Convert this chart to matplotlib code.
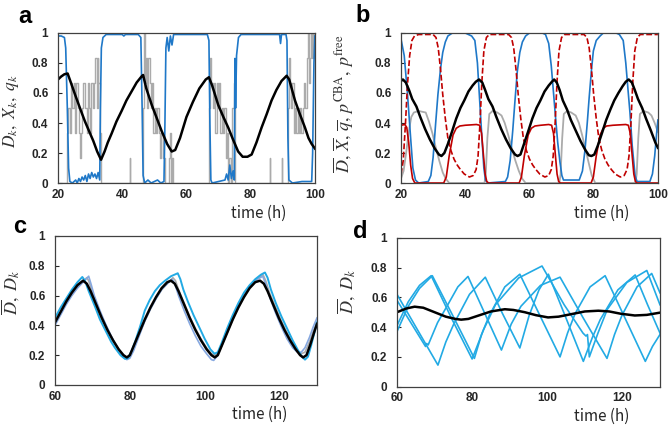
import matplotlib
matplotlib.use("Agg")
from matplotlib import pyplot as plt
from matplotlib.ticker import FuncFormatter

plt.rcParams['font.family'] = ['Liberation Sans', 'DejaVu Sans']
plt.rcParams['mathtext.fontset'] = 'stix'

# ---------- panel a ----------
a_D_t = [20, 21, 22, 23, 24, 25.3, 27, 28.4, 30, 31, 32.2, 33.4, 34.5, 35.5, 36.7, 38.2, 39.8, 41.3, 42.9,
         44.5, 46, 46.5, 47.5, 49.2, 50.8, 52.3, 54, 55.4, 56.5, 58, 60, 62, 64, 66, 67, 68, 69.9, 71.5, 73,
         74.5, 76.1, 77.5, 79, 80.3, 81.8, 83.4, 85, 86.5, 88, 89.6, 91.2, 92, 93.8, 95.3, 96.9, 98, 99, 100]
a_D_v = [0.69, 0.71, 0.725, 0.73, 0.67, 0.59, 0.49, 0.41, 0.33, 0.28, 0.21, 0.155, 0.21, 0.27, 0.33, 0.41,
         0.48, 0.55, 0.61, 0.67, 0.71, 0.72, 0.63, 0.52, 0.43, 0.345, 0.26, 0.21, 0.22, 0.3, 0.44, 0.54, 0.63,
         0.69, 0.705, 0.65, 0.52, 0.44, 0.37, 0.29, 0.21, 0.175, 0.175, 0.19, 0.27, 0.37, 0.46, 0.55, 0.62,
         0.68, 0.715, 0.69, 0.55, 0.46, 0.37, 0.3, 0.26, 0.23]

a_X_t = [20, 21, 22, 22.4, 22.9, 23.3, 23.7, 24.5, 25.5, 26, 26.5, 27, 27.5, 28, 28.5, 29, 29.5, 30, 30.5,
         31, 31.5, 32, 32.5, 33, 33.2, 33.5, 34, 35, 40, 40.5, 41, 45, 45.8, 46.2, 46.5, 47, 48, 49, 50, 51,
         52, 53, 53.3, 53.6, 54, 54.5, 55, 55.5, 56, 60, 66.5, 67.0, 67.3, 67.6, 68, 70, 72, 72.5, 73, 73.5,
         74, 74.5, 74.9, 75.1, 75.3, 75.6, 76.2, 77, 89, 89.3, 89.6, 91, 91.3, 91.6, 91.9, 93, 96, 99,
         99.3, 99.7, 100]
a_X_v = [0.98, 0.98, 0.97, 0.9, 0.5, 0.1, 0.01, 0.0, 0.02, 0.0, 0.03, 0.01, 0.04, 0.02, 0.05, 0.01, 0.06,
         0.03, 0.07, 0.04, 0.06, 0.03, 0.07, 0.02, 0.5, 0.9, 0.97, 0.99, 0.99, 0.98, 0.99, 0.99, 0.97, 0.5,
         0.05, 0.0, 0.02, 0.0, 0.01, 0.02, 0.0, 0.01, 0.4, 0.9, 0.97, 0.88, 0.98, 0.92, 0.99, 0.99, 0.99,
         0.95, 0.4, 0.02, 0.0, 0.01, 0.02, 0.06, 0.02, 0.12, 0.03, 0.08, 0.02, 0.83, 0.5, 0.85, 0.97, 0.99,
         0.99, 0.93, 0.99, 0.99, 0.95, 0.3, 0.02, 0.0, 0.01, 0.01, 0.2, 0.8, 0.98]

# q_k is a step signal taking values k/6
a_q_t = [20, 22.8, 23.2, 23.6, 24.0, 24.5, 24.9, 25.3, 25.7, 26.1, 26.5, 26.8, 27.2, 27.6, 27.9, 28.4,
         28.9, 29.3, 29.7, 30.0, 30.4, 30.9, 31.2, 31.6, 32.0, 32.3, 32.6, 33.0, 33.3,
         42.3, 42.5,
         46.4, 46.7, 47.0, 47.3, 47.7, 48.1, 48.5, 48.9, 49.3, 49.7, 50.1, 50.5, 50.9, 51.3, 51.8, 52.2,
         52.7, 53.2, 54.6, 54.9, 55.2, 55.5, 55.8,
         67.1, 67.4, 67.8, 68.2, 68.6, 69.0, 69.4, 69.8, 70.2, 70.6, 71.0, 71.4, 71.8, 72.2, 72.6, 73.0,
         73.4, 73.8, 74.3, 74.7, 75.1,
         85.9, 86.1, 89.7, 89.9,
         91.5, 91.8, 92.2, 92.6, 93.0, 93.4, 93.8, 94.2, 94.6, 95.0, 95.4, 95.8, 96.2, 96.6, 97.0, 97.4,
         97.8, 98.1, 98.4, 98.8, 99.1, 99.5, 99.8, 100]
a_q_v = [0, 0.333, 0.5, 0.333, 0.667, 0.5, 0.667, 0.333, 0.667, 0.5, 0.333, 0.167, 0.333, 0.5, 0.667, 0.5,
         0.333, 0.667, 0.5, 0.333, 0.667, 0.5, 0.667, 0.833, 0.5, 0.833, 0.667, 0.333, 0,
         0.167, 0,
         0.5, 1.0, 0.667, 0.833, 0.5, 0.833, 0.667, 0.5, 0.667, 0.333, 0.5, 0.333, 0.5, 0.333, 0.167, 0.333,
         0.167, 0, 0.167, 0.333, 0, 0.167, 0,
         0.5, 0.833, 0.667, 0.5, 0.667, 0.333, 0.667, 0.5, 0.667, 0.333, 0.5, 0.333, 0.5, 0.167, 0.333, 0,
         0.167, 0, 0.5, 0.667, 0,
         0.167, 0, 0.167, 0,
         0.5, 0.833, 0.667, 0.5, 0.667, 0.333, 0.5, 0.333, 0.5, 0.333, 0.5, 0.333, 0.5, 0.667, 0.5, 0.833,
         1.0, 0.667, 0.833, 1.0, 0.833, 1.0, 0.833, 0.833]

# ---------- panel b ----------
b_D_t = [20, 20.6, 21.5, 22.5, 23.5, 24.8, 26, 27.5, 29, 30.5, 31.8, 32.6, 33.5, 34.6, 36, 37.2, 38.5, 39.7,
         41, 42.3, 43.3, 44.3, 45.3, 46.2, 47.2, 48.5, 49.7, 51.2, 52.7, 54.2, 55.5, 56.3, 57.2, 58.3, 59.7,
         60.9, 62.2, 63.4, 64.7, 66, 67, 67.7, 68.5, 69.4, 70.4, 71.7, 72.9, 74.4, 75.9, 77.4, 78.5, 79.3,
         80.2, 81.3, 82.7, 83.9, 85.2, 86.4, 87.7, 89, 90, 90.9, 91.9, 92.8, 93.8, 95.1, 96.3, 97.8, 99.2, 100]
b_D_v = [0.68, 0.69, 0.67, 0.62, 0.56, 0.51, 0.44, 0.36, 0.29, 0.23, 0.19, 0.18, 0.2, 0.26, 0.35, 0.43,
         0.5, 0.55, 0.61, 0.65, 0.675, 0.69, 0.67, 0.62, 0.56, 0.51, 0.44, 0.36, 0.29, 0.23, 0.19, 0.18, 0.19,
         0.26, 0.35, 0.43, 0.5, 0.55, 0.61, 0.65, 0.675, 0.69, 0.67, 0.62, 0.55, 0.49, 0.42, 0.35, 0.28, 0.22,
         0.185, 0.18, 0.19, 0.25, 0.34, 0.42, 0.49, 0.55, 0.6, 0.645, 0.675, 0.69, 0.67, 0.62, 0.56, 0.5,
         0.43, 0.35, 0.27, 0.235]

b_X_t = [20, 21, 22, 23, 23.7, 24.5, 25.5, 28.5, 29.3, 30, 30.8, 31.5, 32.3, 33, 33.8, 34.6, 36, 40, 42,
         43, 43.8, 44.5, 45.2, 45.8, 46.3, 47, 52.5, 53.2, 54, 54.8, 55.5, 56.2, 57, 57.8, 58.8, 60, 64, 65,
         66, 66.8, 67.5, 68, 68.8, 69.5, 70.1, 70.6, 75.5, 76.5, 77.3, 78, 78.6, 79.3, 79.9, 80.8, 82, 83, 87,
         88, 89.2, 90, 90.7, 91.3, 92, 92.9, 93.5, 97.5, 98.3, 99, 99.6, 100]
b_X_v = [0.96, 0.85, 0.6, 0.3, 0.1, 0.02, 0.0, 0.01, 0.05, 0.17, 0.4, 0.59, 0.76, 0.87, 0.94, 0.98, 1.0,
         1.0, 0.98, 0.95, 0.8, 0.55, 0.3, 0.1, 0.02, 0.0, 0.01, 0.04, 0.15, 0.35, 0.55, 0.74, 0.87, 0.94,
         0.98, 1.0, 1.0, 0.99, 0.93, 0.78, 0.6, 0.47, 0.27, 0.14, 0.05, 0.02, 0.02, 0.08, 0.22, 0.4, 0.57,
         0.75, 0.88, 0.95, 0.98, 1.0, 1.0, 0.99, 0.95, 0.8, 0.62, 0.47, 0.25, 0.05, 0.01, 0.01, 0.06, 0.18,
         0.33, 0.42]

b_cba_t = [20, 21.2, 21.8, 22.4, 23, 23.6, 24.3, 33.3, 34.1, 35, 36.2, 37.2, 38.3, 40, 43.5, 44.5, 45.1,
           45.7, 46.2, 46.7, 47.3, 56.8, 57.5, 58.4, 59.6, 60.6, 61.7, 63.5, 66, 66.9, 67.5, 68.1, 68.6,
           69.1, 69.6, 79.2, 79.9, 80.8, 82, 83, 84, 86, 90, 90.8, 91.4, 92, 92.5, 93, 93.5, 100]
b_cba_v = [0.385, 0.39, 0.37, 0.27, 0.12, 0.03, 0.0, 0.0, 0.04, 0.18, 0.32, 0.365, 0.38, 0.385, 0.39,
           0.385, 0.33, 0.18, 0.06, 0.01, 0.0, 0.0, 0.04, 0.18, 0.32, 0.365, 0.38, 0.385, 0.39, 0.385, 0.33,
           0.18, 0.06, 0.01, 0.0, 0.0, 0.04, 0.18, 0.32, 0.365, 0.38, 0.385, 0.39, 0.385, 0.33, 0.18, 0.06,
           0.01, 0.0, 0.0]

b_free_t = [20, 20.7, 21.4, 22, 22.7, 23.4, 24.2, 25.5, 30, 30.9, 31.6, 32.3, 33, 33.8, 34.6, 35.5, 36.5,
            37.5, 38.5, 39.7, 41.3, 42.5, 43.4, 44, 44.6, 45.2, 45.8, 46.6, 47.5, 53.5, 54.4, 55.1, 55.8,
            56.5, 57.3, 58.1, 59, 60, 61, 62, 63.2, 64.8, 66, 66.8, 67.4, 68, 68.6, 69.2, 70, 71, 77, 77.9,
            78.6, 79.3, 80, 80.8, 81.6, 82.5, 83.5, 84.5, 85.5, 86.7, 88.3, 89.5, 90.4, 91, 91.6, 92.2, 92.8,
            93.6, 94.5, 100]
b_free_v = [0.06, 0.15, 0.4, 0.65, 0.85, 0.95, 0.98, 0.99, 0.99, 0.97, 0.9, 0.76, 0.59, 0.43, 0.3, 0.22,
            0.16, 0.12, 0.09, 0.06, 0.04, 0.05, 0.09, 0.18, 0.4, 0.68, 0.88, 0.97, 0.99, 0.99, 0.97, 0.9,
            0.76, 0.59, 0.43, 0.3, 0.22, 0.16, 0.12, 0.09, 0.06, 0.04, 0.05, 0.09, 0.18, 0.4, 0.68, 0.88,
            0.97, 0.99, 0.99, 0.97, 0.9, 0.76, 0.59, 0.43, 0.3, 0.22, 0.16, 0.12, 0.09, 0.06, 0.04, 0.05,
            0.09, 0.18, 0.4, 0.68, 0.88, 0.97, 0.99, 0.99]

b_q_t = [20, 20.8, 21.6, 22.4, 23.2, 24, 25.5, 27.7, 28.7, 29.8, 30.9, 31.9, 33, 33.9, 35, 46, 46.4, 46.9,
         47.5, 48.5, 50, 51.3, 52.3, 53.4, 54.5, 55.6, 56.7, 57.7, 58.8, 69.3, 69.7, 70.2, 70.7, 71.7, 73,
         74.4, 75.4, 76.4, 77.5, 78.5, 79.4, 80.5, 93, 93.4, 93.9, 94.4, 95.5, 97, 98, 99, 100]
b_q_v = [0.03, 0.08, 0.2, 0.34, 0.44, 0.47, 0.48, 0.47, 0.41, 0.33, 0.23, 0.15, 0.07, 0.03, 0.0, 0.0, 0.06,
         0.3, 0.46, 0.48, 0.47, 0.45, 0.4, 0.32, 0.23, 0.15, 0.08, 0.03, 0.0, 0.0, 0.06, 0.3, 0.46, 0.48,
         0.47, 0.45, 0.4, 0.32, 0.22, 0.13, 0.05, 0.0, 0.0, 0.06, 0.3, 0.46, 0.48, 0.47, 0.45, 0.4, 0.34]

# ---------- panel c ----------
c_mean_t = [60, 61.5, 63, 64.5, 66, 67.5, 68.5, 69.5, 71, 72.5, 74, 75.5, 77, 78.3, 79.2, 80, 81, 82.5, 84,
            85.5, 87, 88.5, 90, 91, 92, 93, 94.5, 96, 97.5, 99, 100.5, 101.8, 102.7, 103.5, 104.5, 106,
            107.5, 109, 110.5, 112, 113.5, 114.8, 115.8, 116.8, 118.3, 119.8, 121.3, 122.8, 124.3, 125.5,
            126.3, 127.2, 128.2, 129.2, 130]
c_mean_v = [0.42, 0.49, 0.56, 0.62, 0.67, 0.7, 0.68, 0.63, 0.54, 0.45, 0.37, 0.3, 0.24, 0.2, 0.185, 0.2,
            0.26, 0.35, 0.44, 0.52, 0.59, 0.65, 0.69, 0.7, 0.68, 0.63, 0.54, 0.45, 0.37, 0.3, 0.24, 0.2,
            0.185, 0.2, 0.26, 0.35, 0.44, 0.52, 0.59, 0.65, 0.69, 0.7, 0.68, 0.63, 0.54, 0.45, 0.37, 0.3,
            0.24, 0.2, 0.185, 0.2, 0.27, 0.35, 0.41]

c_k1_t = [60, 61.5, 63, 64.5, 66, 67.3, 68, 69, 70.7, 72, 73.4, 75, 76, 77.5, 78.7, 79.5, 80.5, 81.4, 82.7,
          84, 85.3, 86.7, 88, 89.4, 91, 92.8, 93.5, 94.3, 95.5, 97, 98.5, 100, 101.5, 102.6, 103.5, 104.5,
          106, 107.5, 109, 110.5, 112, 113.5, 115, 116.1, 116.8, 117.7, 119, 120.5, 122, 123.5, 125, 126,
          126.8, 127.6, 128.5, 129.3, 130]
c_k1_v = [0.45, 0.52, 0.58, 0.64, 0.69, 0.725, 0.7, 0.63, 0.525, 0.44, 0.37, 0.29, 0.25, 0.2, 0.175, 0.18,
          0.23, 0.29, 0.39, 0.5, 0.57, 0.63, 0.67, 0.7, 0.73, 0.75, 0.71, 0.64, 0.56, 0.47, 0.39, 0.31, 0.24,
          0.21, 0.22, 0.28, 0.38, 0.47, 0.55, 0.62, 0.67, 0.71, 0.74, 0.755, 0.72, 0.64, 0.55, 0.46, 0.38,
          0.3, 0.23, 0.19, 0.17, 0.19, 0.27, 0.35, 0.42]

c_k2_t = [60, 61.5, 63, 64.5, 66, 67.5, 69, 69.6, 70.5, 72, 73.5, 75, 76.5, 78, 79.2, 80, 81, 82.5, 84,
          85.5, 87, 88.5, 90, 91.3, 92, 93, 94.5, 96, 97.5, 99, 100.5, 101.8, 102.4, 103.2, 104.5, 106,
          107.5, 109, 110.5, 112, 113.5, 115.5, 116.3, 117.5, 119, 120.5, 122, 123.5, 124.8, 125.8, 126.8,
          128, 129, 130]
c_k2_v = [0.4, 0.47, 0.54, 0.6, 0.65, 0.69, 0.73, 0.68, 0.6, 0.5, 0.41, 0.33, 0.26, 0.2, 0.17, 0.18, 0.23,
          0.33, 0.43, 0.51, 0.58, 0.64, 0.68, 0.71, 0.68, 0.6, 0.5, 0.41, 0.33, 0.26, 0.21, 0.17, 0.165,
          0.19, 0.26, 0.36, 0.45, 0.53, 0.6, 0.66, 0.7, 0.73, 0.68, 0.58, 0.48, 0.39, 0.31, 0.25, 0.22,
          0.22, 0.25, 0.32, 0.39, 0.45]

c_k3_t = [60, 63, 66, 68.5, 69, 70, 71.5, 73, 74.5, 76, 77.5, 79, 80, 81, 82.5, 84, 85.5, 87, 88.5, 90,
          91.5, 92.2, 93, 94.5, 96, 97.5, 99, 100.5, 101.8, 102.8, 103.8, 105, 106.5, 108, 109.5, 111,
          112.5, 114, 115.6, 116.3, 117.3, 118.8, 120.3, 121.8, 123.3, 124.8, 125.8, 126.8, 128, 129, 130]
c_k3_v = [0.41, 0.55, 0.66, 0.72, 0.7, 0.62, 0.52, 0.43, 0.35, 0.28, 0.22, 0.185, 0.19, 0.24, 0.34, 0.43,
          0.51, 0.58, 0.64, 0.68, 0.72, 0.7, 0.64, 0.55, 0.46, 0.38, 0.31, 0.25, 0.21, 0.2, 0.22, 0.29,
          0.38, 0.47, 0.55, 0.62, 0.67, 0.71, 0.74, 0.7, 0.62, 0.53, 0.44, 0.36, 0.29, 0.23, 0.21, 0.22,
          0.29, 0.36, 0.42]

# ---------- panel d ----------
d_mean_t = [60, 62.5, 64.7, 67, 70, 73, 75.5, 77.1, 79, 82, 85, 88.7, 91, 94, 97, 100.2, 103, 106, 110,
            113.6, 116.5, 119.5, 123.3, 126.5, 130]
d_mean_v = [0.5, 0.525, 0.537, 0.53, 0.5, 0.47, 0.455, 0.45, 0.455, 0.48, 0.505, 0.52, 0.515, 0.5, 0.48,
            0.465, 0.47, 0.485, 0.505, 0.51, 0.505, 0.49, 0.478, 0.482, 0.497]

d_k1_t = [60, 65.5, 70.9, 73, 75.1, 79.3, 83.5, 88.1, 92.7, 95.2, 97.8, 100.3, 105, 109.6, 112, 114.1,
          118.8, 123.4, 126.7, 130]
d_k1_v = [0.62, 0.38, 0.145, 0.3, 0.42, 0.62, 0.735, 0.49, 0.26, 0.48, 0.65, 0.755, 0.46, 0.17, 0.33,
          0.45, 0.65, 0.75, 0.55, 0.36]
d_k2_t = [60, 63, 66, 69.1, 74.5, 80.0, 83, 86.2, 92.4, 98.6, 104.5, 109.5, 110.3, 110.7, 111.2, 113.5,
          116, 121.2, 126.5, 130]
d_k2_v = [0.41, 0.57, 0.68, 0.745, 0.46, 0.186, 0.38, 0.55, 0.73, 0.81, 0.55, 0.36, 0.34, 0.35, 0.2, 0.36,
          0.52, 0.7, 0.78, 0.55]
d_k3_t = [60, 63, 66, 69.4, 75, 80.6, 82.5, 84.6, 88.7, 92.7, 98, 103.4, 105.4, 107.4, 111.4, 115.4,
          120.7, 126.1, 128, 130]
d_k3_v = [0.37, 0.54, 0.66, 0.745, 0.47, 0.19, 0.35, 0.48, 0.67, 0.755, 0.48, 0.2, 0.36, 0.49, 0.67,
          0.745, 0.46, 0.17, 0.27, 0.35]
d_k4_t = [60, 67.6, 67.9, 68.3, 70.8, 73.3, 76.2, 78.9, 83.4, 87.8, 90.4, 93, 98.2, 103.4, 109.6, 115.9,
          117.9, 119.9, 123.9, 127.8, 130]
d_k4_v = [0.58, 0.27, 0.29, 0.28, 0.43, 0.54, 0.67, 0.74, 0.49, 0.246, 0.42, 0.54, 0.68, 0.735, 0.46,
          0.19, 0.35, 0.48, 0.67, 0.76, 0.63]

BLUE = '#1f78c8'
RED = '#c00000'
GRAY = '#ababab'
CYAN = '#22aae4'
SLATE = '#86a8e0'

fig = plt.figure(figsize=(6.69, 4.29), dpi=100)
ax_a = fig.add_axes([0.0867, 0.5734, 0.384, 0.3497])
ax_b = fig.add_axes([0.5994, 0.5734, 0.384, 0.3497])
ax_c = fig.add_axes([0.0822, 0.1026, 0.3916, 0.3473])
ax_d = fig.add_axes([0.5934, 0.0986, 0.3931, 0.3473])

fmt = FuncFormatter(lambda v, p: '%g' % v)


def style(ax, xlim, xticks):
    ax.set_xlim(*xlim)
    ax.set_ylim(0, 1)
    ax.set_xticks(xticks)
    ax.set_yticks([0, 0.2, 0.4, 0.6, 0.8, 1.0])
    ax.xaxis.set_major_formatter(fmt)
    ax.yaxis.set_major_formatter(fmt)
    ax.tick_params(axis='y', direction='in', length=3, width=0.8, pad=7, labelsize=8.5, colors='#262626')
    ax.tick_params(axis='x', length=0, pad=4, labelsize=8.5, colors='#262626')
    for lab in ax.get_xticklabels() + ax.get_yticklabels():
        lab.set_fontweight('bold')
    for s in ax.spines.values():
        s.set_color('#404040')
        s.set_linewidth(0.9)
    ax.text(0.78, -0.2, 'time (h)', transform=ax.transAxes, ha='center', va='center',
            fontsize=11, family=['Noto Sans CJK JP', 'DejaVu Sans'], color='#262626')


# a
ax_a.step(a_q_t, a_q_v, where='post', color=GRAY, lw=1.0)
ax_a.plot(a_X_t, a_X_v, color=BLUE, lw=1.2)
ax_a.plot(a_D_t, a_D_v, color='black', lw=1.8)
style(ax_a, (20, 100), [20, 40, 60, 80, 100])
ax_a.set_ylabel(r'$D_k,\ X_k,\ q_k$', fontsize=12.5, color='#333333')
ax_a.yaxis.set_label_coords(-0.145, 0.48)

# b
ax_b.plot(b_q_t, b_q_v, color=GRAY, lw=1.3)
ax_b.plot(b_X_t, b_X_v, color=BLUE, lw=1.2)
ax_b.plot(b_cba_t, b_cba_v, color=RED, lw=1.2)
ax_b.plot(b_free_t, b_free_v, color=RED, lw=1.2, ls=(0, (3.5, 1.5)))
ax_b.plot(b_D_t, b_D_v, color='black', lw=1.8)
style(ax_b, (20, 100), [20, 40, 60, 80, 100])
ax_b.set_ylabel(r'$\overline{D},\,\overline{X},\,\overline{q},\,p^{\mathrm{CBA}},\,p^{\mathrm{free}}$',
                fontsize=13, color='#333333')
ax_b.yaxis.set_label_coords(-0.175, 0.53)

# c
ax_c.plot(c_k3_t, c_k3_v, color=GRAY, lw=1.2)
ax_c.plot(c_k2_t, c_k2_v, color=SLATE, lw=1.2)
ax_c.plot(c_k1_t, c_k1_v, color=CYAN, lw=1.4)
ax_c.plot(c_mean_t, c_mean_v, color='black', lw=1.8)
style(ax_c, (60, 130), [60, 80, 100, 120])
ax_c.set_ylabel(r'$\overline{D},\ D_k$', fontsize=13, color='#333333')
ax_c.yaxis.set_label_coords(-0.125, 0.62)

# d
for tt, vv in [(d_k1_t, d_k1_v), (d_k2_t, d_k2_v), (d_k3_t, d_k3_v), (d_k4_t, d_k4_v)]:
    ax_d.plot(tt, vv, color=CYAN, lw=1.2)
ax_d.plot(d_mean_t, d_mean_v, color='black', lw=1.8)
style(ax_d, (60, 130), [60, 80, 100, 120])
ax_d.set_ylabel(r'$\overline{D},\ D_k$', fontsize=13, color='#333333')
ax_d.yaxis.set_label_coords(-0.15, 0.64)

for x, y, s in [(0.027, 0.946, 'a'), (0.531, 0.949, 'b'), (0.019, 0.457, 'c'), (0.528, 0.445, 'd')]:
    fig.text(x, y, s, fontsize=17, fontweight='bold', va='baseline', ha='left')

fig.savefig('out.png', dpi=100)
